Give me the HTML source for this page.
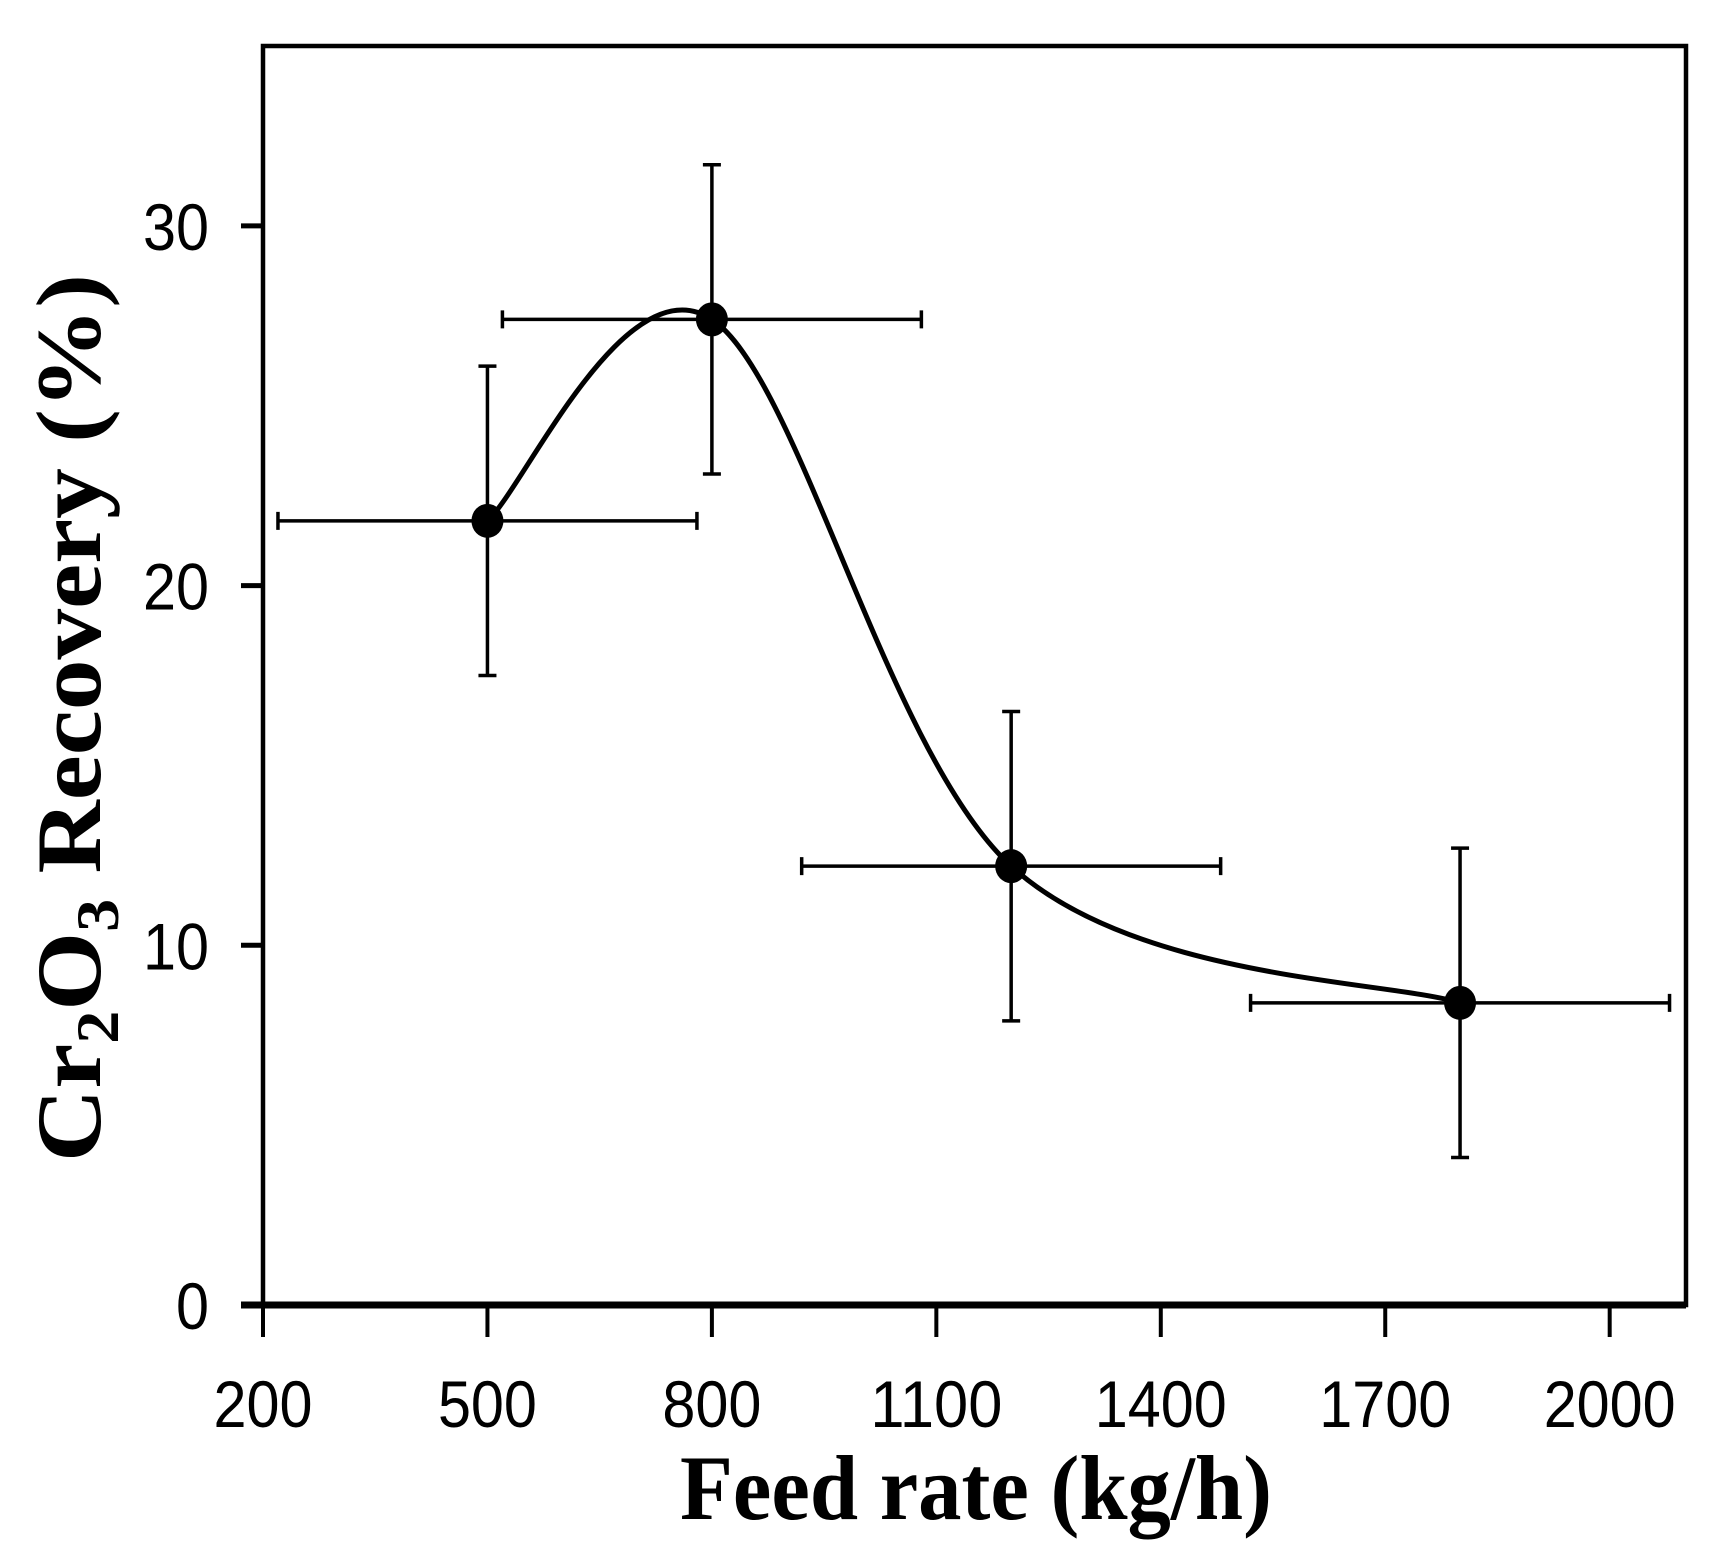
<!DOCTYPE html>
<html>
<head>
<meta charset="utf-8">
<style>
  html, body { margin: 0; padding: 0; background: #fff; }
  svg { display: block; }
</style>
</head>
<body>
<svg id="chart" width="1711" height="1557" viewBox="0 0 1711 1557" xmlns="http://www.w3.org/2000/svg">
  <rect x="0" y="0" width="1711" height="1557" fill="#fff"/>
  <g id="plot"></g>
  <g id="axes"></g>
  <text x="976" y="1519" text-anchor="middle" font-family="'Liberation Serif', serif" font-weight="bold" font-size="92" textLength="592" lengthAdjust="spacingAndGlyphs" fill="#000">Feed rate (kg/h)</text>
  <text transform="translate(100,718) rotate(-90)" text-anchor="middle" font-family="'Liberation Serif', serif" font-weight="bold" font-size="92" textLength="888" lengthAdjust="spacingAndGlyphs" fill="#000">Cr<tspan font-size="60" dy="18">2</tspan><tspan dy="-18">O</tspan><tspan font-size="60" dy="18">3</tspan><tspan dy="-18"> Recovery  (%)</tspan></text>
</svg>
<script>
const categories = [500, 800, 1200, 1800];
const recovery = [21.8, 27.4, 12.2, 8.4];
const yErr = [4.3, 4.3, 4.3, 4.3];
const xErr = [280, 280, 280, 280];
const xTicks = [200, 500, 800, 1100, 1400, 1700, 2000];
const yTicks = [0, 10, 20, 30];

const X0 = 263, X1 = 1686, Y0 = 1305, Y1 = 46;
const xMin = 200, xMax = 2102, yMin = 0, yMax = 35;
const sx = v => X0 + (v - xMin) / (xMax - xMin) * (X1 - X0);
const sy = v => Y0 - (v - yMin) / (yMax - yMin) * (Y0 - Y1);
const NS = 'http://www.w3.org/2000/svg';
function mk(tag, attrs, parent) {
  const e = document.createElementNS(NS, tag);
  for (const k in attrs) e.setAttribute(k, attrs[k]);
  parent.appendChild(e);
  return e;
}
const plot = document.getElementById('plot');
const axes = document.getElementById('axes');

let fr = mk('rect', {x: X0, y: Y1, width: X1 - X0, height: Y0 - Y1, fill: 'none', stroke: '#000', 'stroke-width': 4.5}, axes);


let xa = mk('line', {x1: X0 - 22, y1: Y0, x2: X1, y2: Y0, stroke: '#000', 'stroke-width': 7}, axes);



xTicks.forEach(t => {
  const x = sx(t);
  const tk = mk('line', {x1: x, y1: Y0, x2: x, y2: Y0 + 32, stroke: '#000', 'stroke-width': 4}, axes);
  
  
  const s = String(t);
  const lb = mk('text', {x: x, y: 1427, 'text-anchor': 'middle', 'font-family': "'Liberation Sans', sans-serif", 'font-size': 66, textLength: s.length * 33, lengthAdjust: 'spacingAndGlyphs', fill: '#000'}, axes);
  lb.textContent = s;
  
  
});
yTicks.forEach(t => {
  const y = sy(t);
  const tk = mk('line', {x1: X0 - 22, y1: y, x2: X0, y2: y, stroke: '#000', 'stroke-width': 5}, axes);
  
  
  const s = String(t);
  const lb = mk('text', {x: 209, y: y + 24, 'text-anchor': 'end', 'font-family': "'Liberation Sans', sans-serif", 'font-size': 66, textLength: s.length * 33, lengthAdjust: 'spacingAndGlyphs', fill: '#000'}, axes);
  lb.textContent = s;
  
  
});

const pts = categories.map((c, i) => [sx(c), sy(recovery[i])]);
let d = 'M' + pts[0][0] + ',' + pts[0][1];
const tension = 0.5;
for (let i = 0; i < pts.length - 1; i++) {
  const p0 = pts[i - 1] || pts[i], p1 = pts[i], p2 = pts[i + 1], p3 = pts[i + 2] || pts[i + 1];
  const c1 = [p1[0] + (p2[0] - p0[0]) * tension / 3, p1[1] + (p2[1] - p0[1]) * tension / 3];
  const c2 = [p2[0] - (p3[0] - p1[0]) * tension / 3, p2[1] - (p3[1] - p1[1]) * tension / 3];
  d += ' C' + c1[0] + ',' + c1[1] + ' ' + c2[0] + ',' + c2[1] + ' ' + p2[0] + ',' + p2[1];
}
const curve = mk('path', {d: d, fill: 'none', stroke: '#000', 'stroke-width': 5}, plot);



categories.forEach((c, i) => {
  const x = sx(c), y = sy(recovery[i]);
  const g = mk('g', {}, plot);
  
  
  const yt = sy(recovery[i] + yErr[i]), yb = sy(recovery[i] - yErr[i]);
  const xl = sx(c - xErr[i]), xr = sx(c + xErr[i]);
  const s = {stroke: '#000', 'stroke-width': 3.5};
  const ev = mk('path', Object.assign({d: `M${x},${yt}V${yb}M${x - 9},${yt}H${x + 9}M${x - 9},${yb}H${x + 9}`, fill: 'none'}, s), g);
  
  
  const eh = mk('path', Object.assign({d: `M${xl},${y}H${xr}M${xl},${y - 9}V${y + 9}M${xr},${y - 9}V${y + 9}`, fill: 'none'}, s), g);
  
  
  const m = mk('ellipse', {cx: x, cy: y, rx: 16, ry: 17, fill: '#000'}, g);
  
  
});
</script>
</body>
</html>
